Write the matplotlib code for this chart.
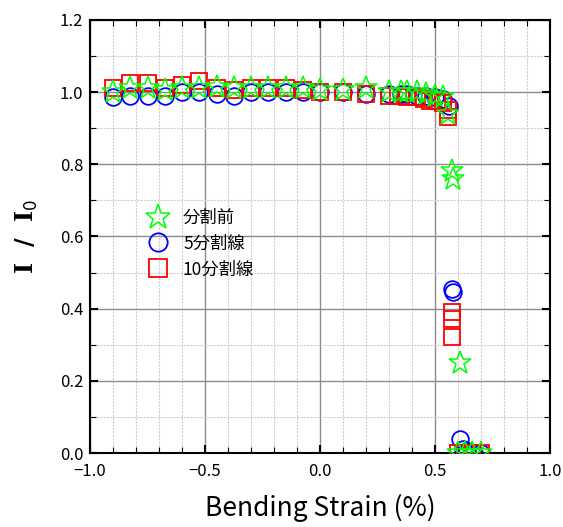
import matplotlib
matplotlib.use("Agg")
import matplotlib.pyplot as plt
from matplotlib.ticker import MultipleLocator

plt.rcParams['font.family'] = ['Noto Sans CJK JP', 'DejaVu Sans']

# 分割前 (green stars)
x_star = [-0.9, -0.825, -0.75, -0.675, -0.6, -0.525, -0.45, -0.375, -0.3, -0.225, -0.15, -0.075, 0.0,
          0.1, 0.2, 0.3, 0.35, 0.38, 0.42, 0.46, 0.5, 0.535, 0.555, 0.575, 0.578, 0.61, 0.6, 0.63, 0.66, 0.7]
y_star = [1.0, 1.01, 1.01, 1.005, 1.01, 1.01, 1.015, 1.01, 1.01, 1.01, 1.01, 1.01, 1.005,
          1.005, 1.01, 1.0, 1.0, 1.0, 1.0, 0.995, 0.99, 0.985, 0.94, 0.78, 0.76, 0.25, 0.0, 0.0, 0.0, 0.0]

# 5分割線 (blue circles)
x_circ = [-0.9, -0.825, -0.75, -0.675, -0.6, -0.525, -0.45, -0.375, -0.3, -0.225, -0.15, -0.075, 0.0,
          0.1, 0.2, 0.3, 0.35, 0.38, 0.42, 0.46, 0.5, 0.535, 0.56, 0.575, 0.577, 0.61, 0.62, 0.64, 0.67, 0.7]
y_circ = [0.985, 0.99, 0.99, 0.99, 1.0, 1.0, 0.995, 0.99, 1.0, 1.0, 1.0, 1.0, 1.0,
          1.0, 0.995, 0.995, 0.995, 0.995, 0.99, 0.99, 0.985, 0.98, 0.96, 0.455, 0.445, 0.04, 0.01, 0.005, 0.0, 0.0]

# 10分割線 (red squares)
x_sq = [-0.9, -0.825, -0.75, -0.675, -0.6, -0.525, -0.45, -0.375, -0.3, -0.225, -0.15, -0.075, 0.0,
        0.1, 0.2, 0.3, 0.34, 0.38, 0.42, 0.45, 0.48, 0.51, 0.535, 0.555, 0.557, 0.575, 0.575, 0.575,
        0.6, 0.63, 0.66, 0.7]
y_sq = [1.01, 1.025, 1.025, 1.01, 1.02, 1.03, 1.01, 1.005, 1.01, 1.01, 1.01, 1.005, 1.0,
        1.0, 0.995, 0.99, 0.99, 0.985, 0.985, 0.98, 0.975, 0.975, 0.97, 0.95, 0.93, 0.39, 0.37, 0.32,
        0.0, 0.0, 0.0, 0.0]

fig = plt.figure(figsize=(5.63, 5.27), dpi=100)
ax = fig.add_axes([0.16, 0.1404, 0.817, 0.822])

h_circ, = ax.plot(x_circ, y_circ, linestyle='none', marker='o', ms=12, mfc='none', mec='#0000ff', mew=1.3, zorder=3)
h_sq, = ax.plot(x_sq, y_sq, linestyle='none', marker='s', ms=11.5, mfc='none', mec='#ff0000', mew=1.3, zorder=4)
h_star, = ax.plot(x_star, y_star, linestyle='none', marker='*', ms=17, mfc='none', mec='#00ff00', mew=1.1, zorder=5)

ax.set_xlim(-1.0, 1.0)
ax.set_ylim(0.0, 1.2)
ax.xaxis.set_major_locator(MultipleLocator(0.5))
ax.xaxis.set_minor_locator(MultipleLocator(0.1))
ax.yaxis.set_major_locator(MultipleLocator(0.2))
ax.yaxis.set_minor_locator(MultipleLocator(0.1))
ax.xaxis.set_major_formatter(plt.FuncFormatter(lambda v, p: f"{v:.1f}".replace('-', '\u2212')))
ax.yaxis.set_major_formatter(plt.FuncFormatter(lambda v, p: f"{v:.1f}"))

ax.grid(which='major', color='#8c8c8c', linewidth=1.0, linestyle='-', zorder=0)
ax.grid(which='minor', color='#cfcfcf', linewidth=0.8, linestyle=(0, (2, 1)), zorder=0)
ax.set_axisbelow(True)

ax.tick_params(which='both', direction='in', top=True, right=True, labelsize=12)
ax.tick_params(axis='x', which='major', pad=7)
ax.tick_params(axis='y', which='major', pad=5)
ax.tick_params(which='major', length=6, width=1.5)
ax.tick_params(which='minor', length=4, width=0.8)
for s in ax.spines.values():
    s.set_linewidth(1.5)
    s.set_color('black')

ax.set_xlabel('Bending Strain (%)', fontsize=19, labelpad=10)
ax.set_ylabel('I  /  I$_0$', fontsize=17, family='DejaVu Serif', fontweight='bold', labelpad=14)

leg = ax.legend([h_star, h_circ, h_sq], ['分割前', '5分割線', '10分割線'],
                loc='upper left', bbox_to_anchor=(0.085, 0.6), frameon=False,
                fontsize=12.5, handletextpad=0.7, labelspacing=0.45, handlelength=1.5,
                markerscale=1.1)

fig.savefig('out.png', dpi=100)
